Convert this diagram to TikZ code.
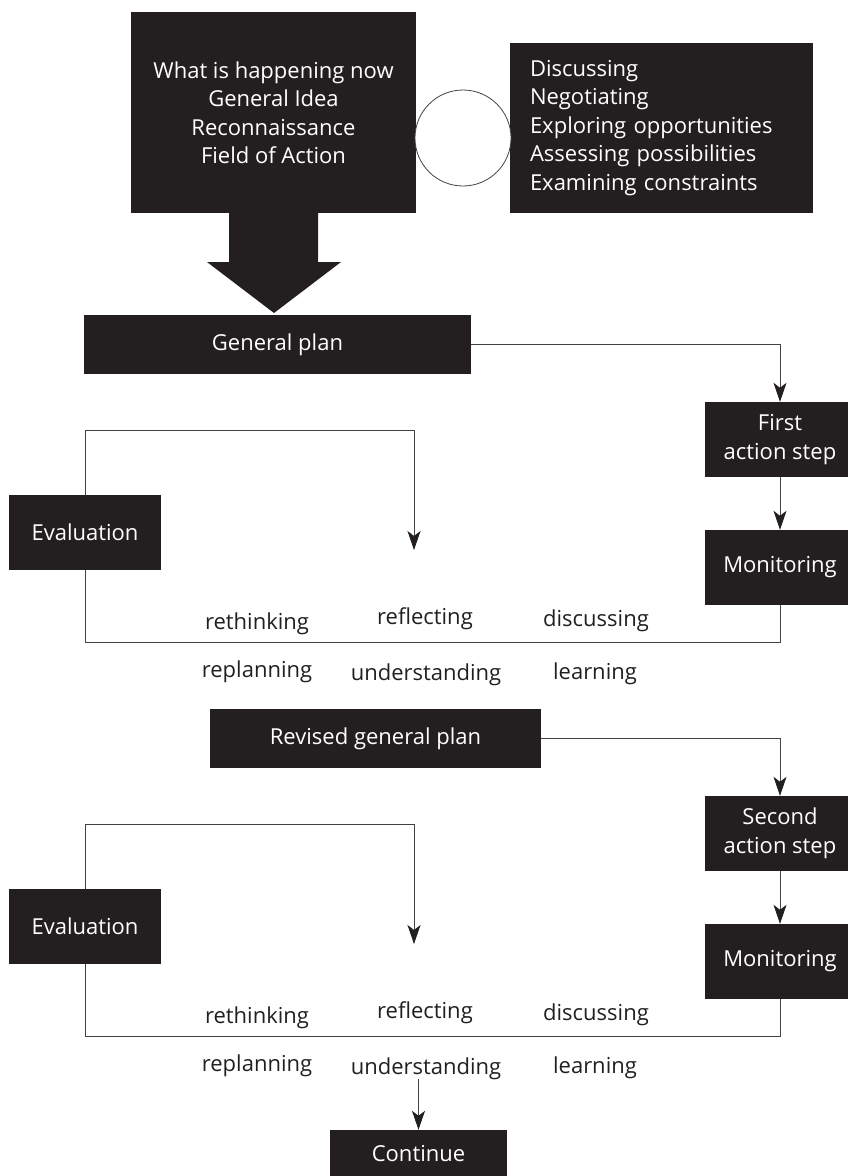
\documentclass[tikz,border=0pt]{standalone}
\usepackage{fontspec}
\setmainfont{Open Sans}
\usetikzlibrary{arrows.meta,positioning}
\definecolor{ink}{HTML}{231F20}

\begin{document}
\begin{tikzpicture}[x=1pt, y=-1pt, >={Stealth[length=19pt,width=13pt,inset=5pt,color=ink]},
  font=\fontsize{22}{28.5}\selectfont,
  blk/.style={fill=ink, text=white, inner sep=0pt, align=center},
  wrd/.style={text=ink, inner sep=0pt, anchor=base},
  ln/.style={draw=ink!85, line width=0.8pt}]
  \useasboundingbox (0,0) rectangle (848,1176);
  % reconnaissance
  \node[blk, minimum width=285, minimum height=201] (idea) at (273.5,112.5) {What is happening now\\General Idea\\Reconnaissance\\Field of Action};
  \node[blk, minimum height=170, text width=263, inner xsep=20, align=left] (talk) at (661.5,128) {Discussing\\Negotiating\\Exploring opportunities\\Assessing possibilities\\Examining constraints};
  \node[circle, ln, fill=white, minimum size=96] (link) at (463,138) {};
  \fill[ink] (229,213) -- (229,262) -- (207,262) -- (274,313) -- (341,262) -- (318,262) -- (318,213) -- cycle;
  % first cycle
  \node[blk, minimum width=387, minimum height=59] (plan1) at (277.5,344.5) {General plan};
  \node[blk, minimum width=150, minimum height=75] (step1) at (780,439.5) {First\\action step};
  \node[blk, minimum width=150, minimum height=75] (mon1) at (780,567.5) {Monitoring};
  \node[blk, minimum width=152, minimum height=75] (eval1) at (85,532.5) {Evaluation};
  \node[wrd] (rth1) at (257,629) {rethinking}; \node[wrd] (rfl1) at (425,624) {reflecting}; \node[wrd] (dsc1) at (596,626) {discussing};
  \node[wrd] (rpl1) at (257,677) {replanning}; \node[wrd] (und1) at (426,680) {understanding}; \node[wrd] (lrn1) at (595,679) {learning};
  \coordinate (high1) at (85,430); \coordinate (drop1) at (414,550); \coordinate (low1) at (85,642);
  \draw[ln,->] (plan1.east) -| (step1.north);
  \draw[ln,->] (step1.south) -- (mon1.north);
  \draw[ln] (mon1.south) |- (low1) -- (eval1.south);
  \draw[ln,->] (eval1.north) -- (high1) -| (drop1);
  % second cycle
  \node[blk, minimum width=331, minimum height=59] (plan2) at (375.5,738.5) {Revised general plan};
  \node[blk, minimum width=150, minimum height=75] (step2) at (780,833.5) {Second\\action step};
  \node[blk, minimum width=150, minimum height=75] (mon2) at (780,961.5) {Monitoring};
  \node[blk, minimum width=152, minimum height=75] (eval2) at (85,926.5) {Evaluation};
  \node[wrd] (rth2) at (257,1023) {rethinking}; \node[wrd] (rfl2) at (425,1018) {reflecting}; \node[wrd] (dsc2) at (596,1020) {discussing};
  \node[wrd] (rpl2) at (257,1071) {replanning}; \node[wrd] (und2) at (426,1074) {understanding}; \node[wrd] (lrn2) at (595,1073) {learning};
  \coordinate (high2) at (85,824); \coordinate (drop2) at (414,944); \coordinate (low2) at (85,1036);
  \draw[ln,->] (plan2.east) -| (step2.north);
  \draw[ln,->] (step2.south) -- (mon2.north);
  \draw[ln] (mon2.south) |- (low2) -- (eval2.south);
  \draw[ln,->] (eval2.north) -- (high2) -| (drop2);
  % onwards
  \node[blk, minimum width=177, minimum height=48] (cont) at (418.5,1154) {Continue};
  \coordinate (cue) at (cont.north |- und2.south);
  \draw[ln,->] (cue) -- (cont.north);
\end{tikzpicture}
\end{document}
